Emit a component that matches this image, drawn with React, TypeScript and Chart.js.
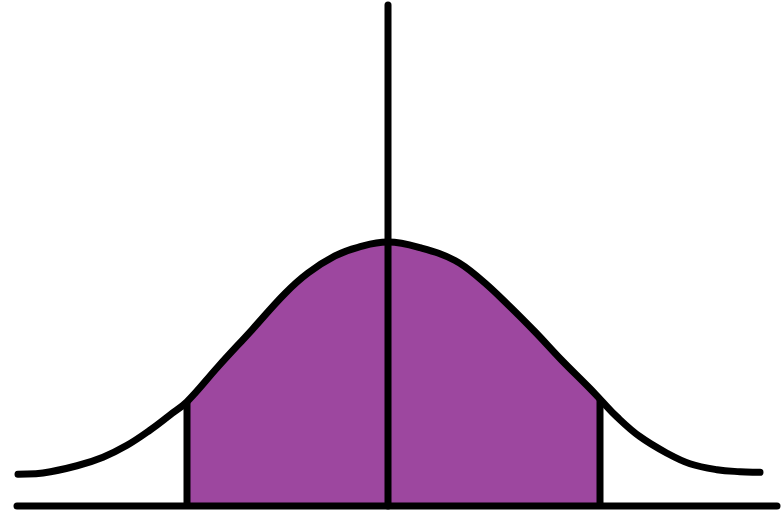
import React, { useEffect, useRef } from "react";
import { Chart, registerables } from "chart.js";

Chart.register(...registerables);

// Bell curve (x in sigma-like units, y in density units)
const curveX = [
  -3.7, -3.45, -3.11, -2.85, -2.61, -2.38, -2.18, -2.01, -1.7, -1.36, -1.03, -0.8, -0.53, -0.3,
  0, 0.33, 0.67, 0.93, 1.2, 1.47, 1.73, 2.0, 2.12, 2.29, 2.52, 2.79, 3.02, 3.29, 3.52, 3.72,
];
const curveY = [
  0.048, 0.05, 0.061, 0.074, 0.092, 0.115, 0.138, 0.158, 0.211, 0.267, 0.322, 0.353, 0.379, 0.392,
  0.4, 0.391, 0.372, 0.343, 0.305, 0.264, 0.222, 0.181, 0.162, 0.135, 0.105, 0.08, 0.064, 0.055, 0.052, 0.051,
];
// Shaded interval bounds
const shadeLow = -2.01;
const shadeHigh = 2.12;
// Axis extents
const axisXStart = -3.71;
const axisXEnd = 3.89;
const centerLineTop = 0.759;
const xRange = [-3.88, 3.96];
const yRange = [-0.0106, 0.7667];

const BLACK = "#000000";
const PURPLE = "#9d479f";

export default function App() {
  const ref = useRef<HTMLCanvasElement | null>(null);
  useEffect(() => {
    if (!ref.current) return;
    const curve = curveX.map((x, i) => ({ x, y: curveY[i] }));
    const shade = curve.filter((p) => p.x >= shadeLow && p.x <= shadeHigh);
    const yAt = (x: number) => curve.find((p) => p.x === x)!.y;
    const lineBase = {
      pointRadius: 0,
      borderColor: BLACK,
      borderWidth: 7,
      borderCapStyle: "round" as const,
      borderJoinStyle: "round" as const,
      fill: false,
      tension: 0,
      order: 1,
    };
    const chart = new Chart(ref.current, {
      type: "line",
      data: {
        datasets: [
          {
            ...lineBase,
            data: [
              { x: axisXStart, y: 0 },
              { x: axisXEnd, y: 0 },
            ],
          },
          {
            ...lineBase,
            data: [
              { x: 0, y: 0 },
              { x: 0, y: centerLineTop },
            ],
          },
          {
            ...lineBase,
            borderCapStyle: "butt" as const,
            data: [
              { x: shadeLow, y: 0 },
              { x: shadeLow, y: yAt(shadeLow) },
            ],
          },
          {
            ...lineBase,
            borderCapStyle: "butt" as const,
            data: [
              { x: shadeHigh, y: 0 },
              { x: shadeHigh, y: yAt(shadeHigh) },
            ],
          },
          {
            ...lineBase,
            data: curve,
            tension: 0.4,
            order: 2,
          },
          {
            data: shade,
            pointRadius: 0,
            borderWidth: 0,
            borderColor: PURPLE,
            backgroundColor: PURPLE,
            fill: "origin",
            tension: 0.4,
            order: 10,
          },
        ],
      },
      options: {
        animation: false,
        responsive: false,
        maintainAspectRatio: false,
        layout: { padding: 0 },
        plugins: { legend: { display: false }, tooltip: { enabled: false } },
        scales: {
          x: { type: "linear", min: xRange[0], max: xRange[1], display: false },
          y: { type: "linear", min: yRange[0], max: yRange[1], display: false },
        },
      },
    });
    return () => chart.destroy();
  }, []);
  return (
    <div style={{ position: "absolute", left: 0, top: 0, width: 784, height: 513, background: "#ffffff" }}>
      <canvas ref={ref} width={784} height={513} style={{ display: "block" }} />
    </div>
  );
}
